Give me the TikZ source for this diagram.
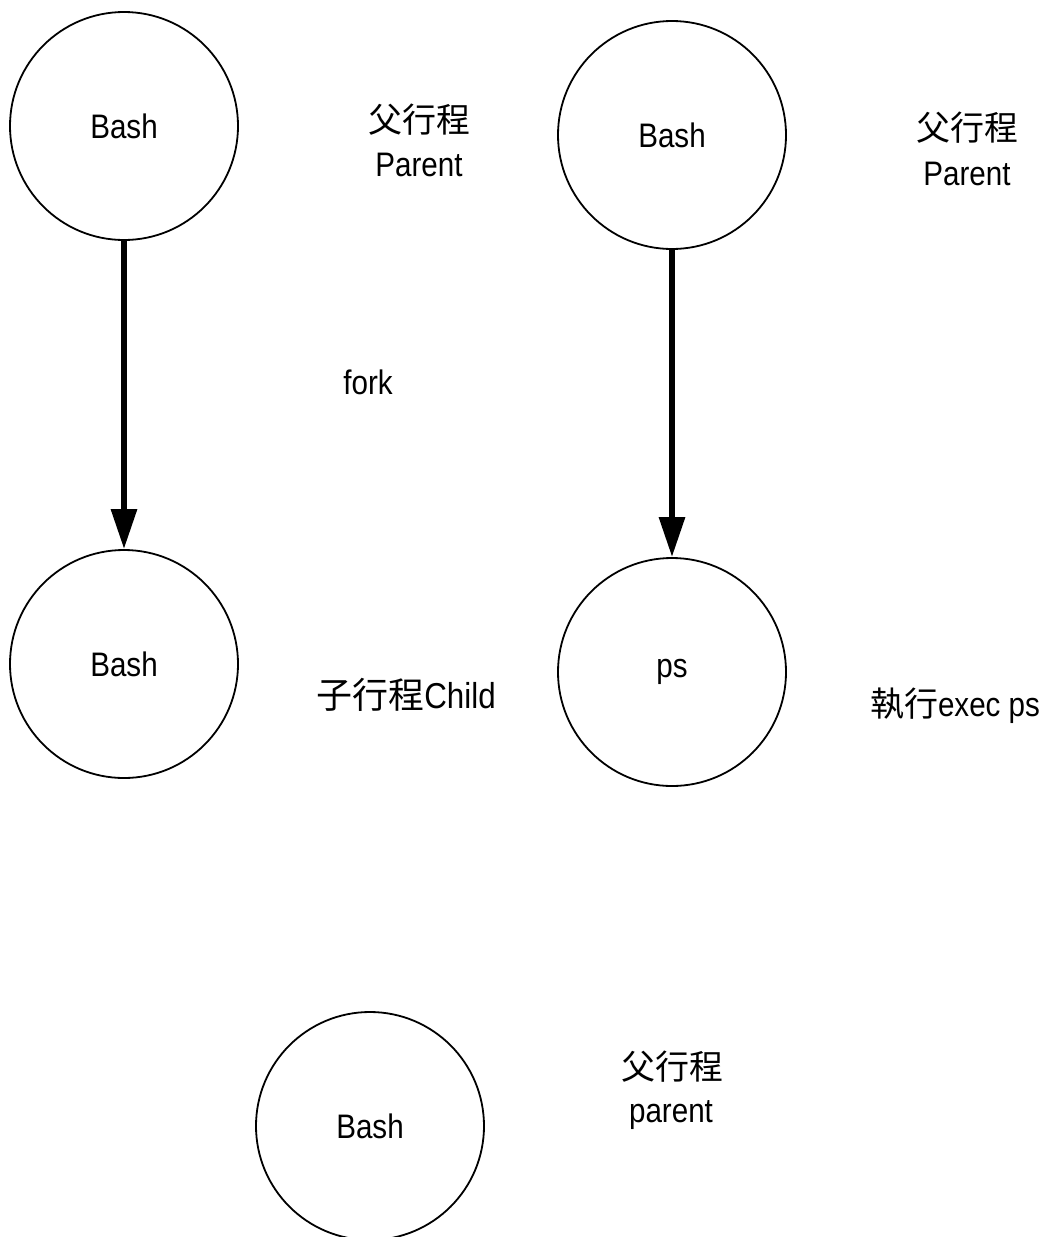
\documentclass[tikz,border=0pt]{standalone}
\usepackage{fontspec}
\setmainfont[FakeStretch=0.87]{Liberation Sans}
\newfontfamily\cjk{Noto Sans CJK TC}
\usetikzlibrary{arrows.meta}
\begin{document}
\begin{tikzpicture}[x=1pt,y=-1pt,
  proc/.style={circle,draw,line width=1.8pt,minimum size=228pt,inner sep=0pt,
    font=\fontsize{34}{40}\selectfont},
  lbl/.style={inner sep=0pt,font=\fontsize{34}{40}\selectfont},
  flow/.style={line width=6pt,-{Triangle[length=40pt,width=25pt]}}]
\useasboundingbox (0,0) rectangle (1045,1237);

% fork: the parent shell and its child
\node[proc] (p1) at (124,126) {Bash};
\node[proc] (c1) at (124,664) {Bash};
\draw[flow] (p1.south) -- (c1.north);
\node[lbl] (p1a) at (419,120) {\cjk 父行程};
\node[lbl,anchor=base] (p1b) at (419,176) {Parent};
\node[lbl] (fk) at (368,382) {fork};
\node[lbl,font=\fontsize{36}{40}\selectfont] (c1a) at (406,695) {{\cjk 子行程}Child};

% exec: the child is replaced by ps
\node[proc] (p2) at (672,135) {Bash};
\node[proc] (c2) at (672,672) {ps};
\draw[flow] (p2.south) -- (c2.north);
\node[lbl] (p2a) at (967,128) {\cjk 父行程};
\node[lbl,anchor=base] (p2b) at (967,185) {Parent};
\node[lbl] (c2a) at (955,706) {{\cjk 執行}exec ps};

% the parent after the child has finished
\node[proc] (p3) at (370,1126) {Bash};
\node[lbl] (p3a) at (672,1067) {\cjk 父行程};
\node[lbl,anchor=base] (p3b) at (671,1122) {parent};
\end{tikzpicture}
\end{document}
